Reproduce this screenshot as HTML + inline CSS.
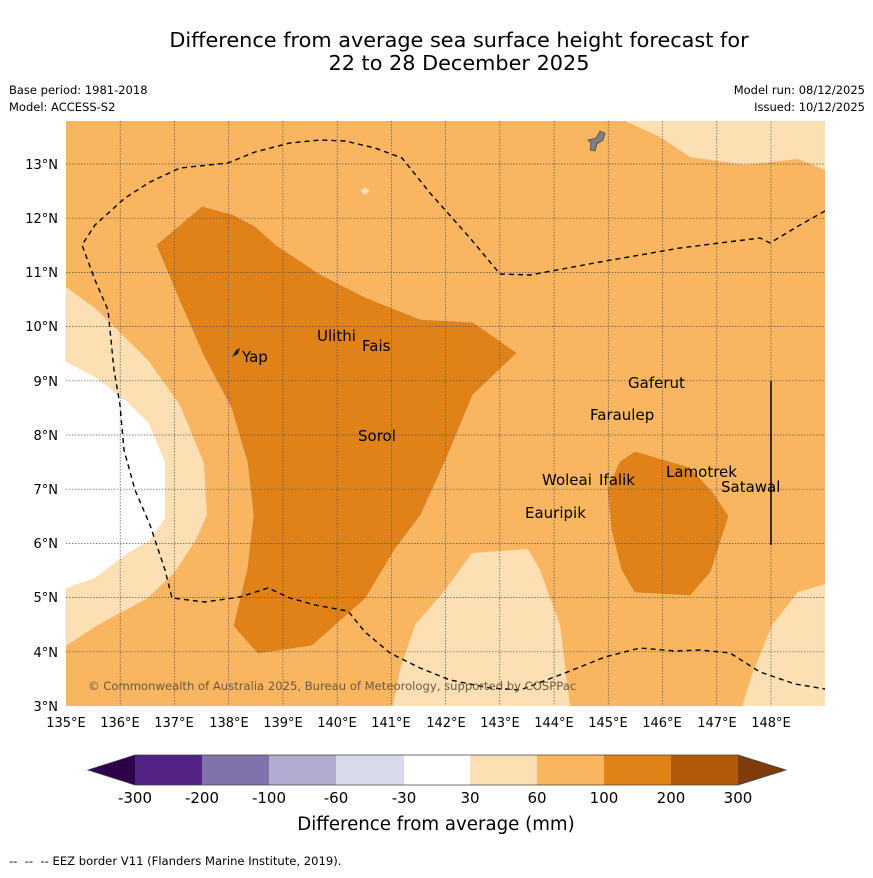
<!DOCTYPE html>
<html><head><meta charset="utf-8"><style>
body{margin:0;background:#fff;font-family:"Liberation Sans","DejaVu Sans",sans-serif}
svg text{font-family:"DejaVu Sans","Liberation Sans",sans-serif}
</style></head><body>
<svg width="873" height="873" viewBox="0 0 873 873" xmlns="http://www.w3.org/2000/svg">
<text x="459" y="47" font-size="20.8" text-anchor="middle">Difference from average sea surface height forecast for</text>
<text x="459" y="70" font-size="20.8" text-anchor="middle">22 to 28 December 2025</text>
<text x="9" y="94" font-size="11.5">Base period: 1981-2018</text>
<text x="9" y="111" font-size="11.5">Model: ACCESS-S2</text>
<text x="865" y="94" font-size="11.5" text-anchor="end">Model run: 08/12/2025</text>
<text x="865" y="111" font-size="11.5" text-anchor="end">Issued: 10/12/2025</text>
<defs><clipPath id="mc"><rect x="66" y="121" width="759" height="585"/></clipPath></defs>
<g clip-path="url(#mc)">
<rect x="66" y="121" width="759" height="585" fill="#f9b55f"/>
<polygon fill="#fddfb4" stroke="#e8c393" stroke-width="0.5" points="66,287 95,308 148,360 180,405 204,463 207,515 196,540 175,572 148,598 98,625 66,646"/>
<polygon fill="#ffffff" points="66,362 95,377 125,400 148,422 165,462 165,518 150,540 125,555 95,578 66,588"/>
<polygon fill="#fddfb4" points="625,121 660,137 690,157 745,165 798,159 825,170 825,121"/>
<polygon fill="#fddfb4" points="393,706 400,670 415,625 445,590 472,553 528,549 540,570 560,625 570,706"/>
<polygon fill="#fddfb4" points="742,706 752,675 772,625 798,592 825,584 825,706"/>
<polygon fill="#e08218" stroke="#c87a30" stroke-width="0.5" points="157,245 202,207 232,215 255,227 275,245 320,275 365,298 420,320 473,323 516,353 472,395 445,460 420,515 395,548 365,598 312,645 258,653 234,626 248,568 254,515 248,462 232,408 204,355 180,300"/>
<polygon fill="#e08218" stroke="#c87a30" stroke-width="0.5" points="608,490 620,462 635,452 690,468 712,492 728,516 710,572 690,595 635,592 622,570 612,530"/>
<g stroke="#555" stroke-width="0.7" stroke-dasharray="1.5,1.5">
<line x1="120.2" y1="121" x2="120.2" y2="706"/><line x1="174.5" y1="121" x2="174.5" y2="706"/><line x1="228.7" y1="121" x2="228.7" y2="706"/><line x1="282.9" y1="121" x2="282.9" y2="706"/><line x1="337.2" y1="121" x2="337.2" y2="706"/><line x1="391.4" y1="121" x2="391.4" y2="706"/><line x1="445.6" y1="121" x2="445.6" y2="706"/><line x1="499.8" y1="121" x2="499.8" y2="706"/><line x1="554.1" y1="121" x2="554.1" y2="706"/><line x1="608.3" y1="121" x2="608.3" y2="706"/><line x1="662.5" y1="121" x2="662.5" y2="706"/><line x1="716.8" y1="121" x2="716.8" y2="706"/><line x1="771" y1="121" x2="771" y2="706"/>
<line x1="66" y1="164" x2="825" y2="164"/><line x1="66" y1="218.2" x2="825" y2="218.2"/><line x1="66" y1="272.4" x2="825" y2="272.4"/><line x1="66" y1="326.6" x2="825" y2="326.6"/><line x1="66" y1="380.8" x2="825" y2="380.8"/><line x1="66" y1="435" x2="825" y2="435"/><line x1="66" y1="489.2" x2="825" y2="489.2"/><line x1="66" y1="543.4" x2="825" y2="543.4"/><line x1="66" y1="597.6" x2="825" y2="597.6"/><line x1="66" y1="651.8" x2="825" y2="651.8"/>
</g>
<polyline fill="none" stroke="#000" stroke-width="1.4" stroke-dasharray="5,4" points="825,211 800,225 770,243 760,238 680,248 600,262 530,275 500,274 470,238 430,193 402,158 375,148 345,141 320,140 290,143 255,152 228,163 180,168 150,182 125,198 95,225 82,245 95,280 108,310 114,370 120,405 124,450 135,490 150,525 165,570 172,598 205,602 240,597 268,588 290,598 315,605 348,611 365,632 390,653 420,668 450,680 490,688 520,690 565,673 605,657 640,648 675,651 700,650 730,653 760,672 795,684 825,689"/>
<line x1="771" y1="381" x2="771" y2="545" stroke="#000" stroke-width="1.5"/>
<polygon fill="#808080" stroke="#333" stroke-width="0.6" points="588,140 596,138 600,131 605,133 603,140 597,144 595,151 590,150 591,143"/>
<polygon fill="#fddfb4" stroke="#e0b080" stroke-width="0.5" points="360,191 365,187 370,191 365,195"/>
<polygon fill="#222" points="232,357 236,350 240,348 238,354"/>
<g font-size="15">
<text x="242" y="362">Yap</text><text x="317" y="341">Ulithi</text><text x="362" y="351">Fais</text><text x="358" y="441">Sorol</text><text x="628" y="388">Gaferut</text><text x="590" y="420">Faraulep</text><text x="542" y="485">Woleai</text><text x="599" y="485">Ifalik</text><text x="666" y="477">Lamotrek</text><text x="721" y="492">Satawal</text><text x="525" y="518">Eauripik</text>
</g>
<text x="88" y="690" font-size="11.6" fill="#6e5a40">© Commonwealth of Australia 2025, Bureau of Meteorology, supported by COSPPac</text>
</g>
<g font-size="13" text-anchor="end">
<text x="58" y="169">13°N</text><text x="58" y="223">12°N</text><text x="58" y="277">11°N</text><text x="58" y="331">10°N</text><text x="58" y="386">9°N</text><text x="58" y="440">8°N</text><text x="58" y="494">7°N</text><text x="58" y="548">6°N</text><text x="58" y="602">5°N</text><text x="58" y="657">4°N</text><text x="58" y="711">3°N</text>
</g>
<g font-size="13" text-anchor="middle">
<text x="66" y="727">135°E</text><text x="120" y="727">136°E</text><text x="174" y="727">137°E</text><text x="229" y="727">138°E</text><text x="283" y="727">139°E</text><text x="337" y="727">140°E</text><text x="391" y="727">141°E</text><text x="446" y="727">142°E</text><text x="500" y="727">143°E</text><text x="554" y="727">144°E</text><text x="608" y="727">145°E</text><text x="662" y="727">146°E</text><text x="717" y="727">147°E</text><text x="771" y="727">148°E</text>
</g>
<g>
<polygon points="88,770 135,755 135,785" fill="#2e004b"/>
<rect x="135" y="755" width="67" height="30" fill="#532285"/>
<rect x="202" y="755" width="67" height="30" fill="#8072ab"/>
<rect x="269" y="755" width="67" height="30" fill="#b1aad1"/>
<rect x="336" y="755" width="68" height="30" fill="#d8daeb"/>
<rect x="404" y="755" width="66" height="30" fill="#ffffff"/>
<rect x="470" y="755" width="67" height="30" fill="#fddfb4"/>
<rect x="537" y="755" width="67" height="30" fill="#f9b55f"/>
<rect x="604" y="755" width="67" height="30" fill="#e08218"/>
<rect x="671" y="755" width="67" height="30" fill="#b05a07"/>
<polygon points="738,755 786,770 738,785" fill="#7f3b08"/>
<polygon points="88,770 135,755 738,755 786,770 738,785 135,785" fill="none" stroke="#444" stroke-width="0.8"/>
</g>
<g font-size="15" text-anchor="middle">
<text x="135" y="803">-300</text><text x="202" y="803">-200</text><text x="269" y="803">-100</text><text x="336" y="803">-60</text><text x="404" y="803">-30</text><text x="470" y="803">30</text><text x="537" y="803">60</text><text x="604" y="803">100</text><text x="671" y="803">200</text><text x="738" y="803">300</text>
</g>
<text x="436" y="830" font-size="18.2" text-anchor="middle">Difference from average (mm)</text>
<text x="9" y="865" font-size="11.6" xml:space="preserve">--  --  -- EEZ border V11 (Flanders Marine Institute, 2019).</text>
</svg>
</body></html>
